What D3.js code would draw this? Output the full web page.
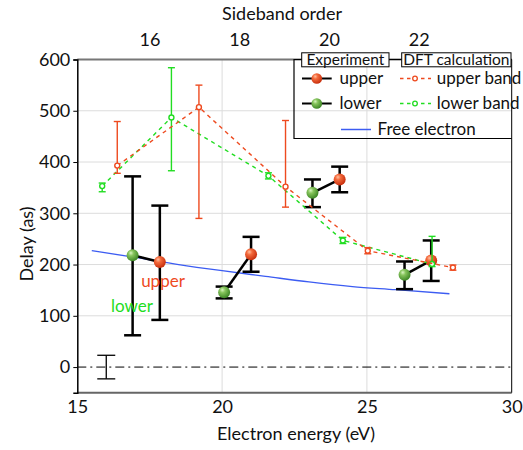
<!DOCTYPE html>
<html>
<head>
<meta charset="utf-8">
<script src="https://cdn.jsdelivr.net/npm/d3@7"></script>
<style>
  body { margin: 0; background: #fff; }
  svg { display: block; font-family: Lato, 'Open Sans', sans-serif; }
</style>
</head>
<body>
<svg id="chart" width="523" height="450"></svg>
<script>
// experiment: lower / upper band pairs
const expLowerEnergy = [16.91, 20.07, 23.12, 26.30];
const expLowerDelay = [218, 146, 340, 180];
const expLowerHigh = [372, 157, 366, 206];
const expLowerLow = [62, 134, 312, 152];
const expUpperEnergy = [17.85, 21.00, 24.06, 27.22];
const expUpperDelay = [205, 220, 366, 208];
const expUpperHigh = [315, 254, 391, 247];
const expUpperLow = [92, 186, 341, 168];

// DFT calculation
const dftUpperEnergy = [16.38, 19.20, 22.19, 25.03, 27.97];
const dftUpperDelay = [393, 507, 352, 227, 194];
const dftUpperHigh = [479, 550, 481, 233, 199];
const dftUpperLow = [378, 290, 312, 221, 189];
const dftLowerEnergy = [15.86, 18.25, 21.60, 24.17, 27.25];
const dftLowerDelay = [353, 487, 373, 247, 201];
const dftLowerHigh = [359, 584, 379, 253, 255];
const dftLowerLow = [342, 383, 367, 241, 196];

// free electron delay
const freeEnergy = [15.5, 17, 18.5, 20, 21.5, 23, 24.5, 26, 27.85];
const freeDelay = [227, 214, 200, 188, 177, 166, 157, 151, 143];

// reference error bar at zero
const refEnergy = [16.0];
const refDelay = [0];
const refErr = [23];

const xTicks = [15, 20, 25, 30];
const yTicks = [0, 100, 200, 300, 400, 500, 600];
const sidebandTicks = [16, 18, 20, 22];

const red = '#ee4a1f';
const green = '#22dd22';
const blue = '#3c5cf2';

const margin = { left: 77.3, right: 511.7, top: 59.5, bottom: 392.7 };
const svg = d3.select('#chart');

const x = d3.scaleLinear().domain([15, 30]).range([margin.left, margin.right]);
const y = d3.scaleLinear().domain([-50, 600]).range([margin.bottom, margin.top]);
// sideband order -> electron energy
const sbEnergy = (q) => 17.51 + 1.55 * (q - 16);

const defs = svg.append('defs');
const addSphere = (id, c0, c1, c2) => {
  let g = defs.append('radialGradient').attr('id', id)
    .attr('cx', '38%').attr('cy', '35%').attr('r', '65%').attr('fx', '35%').attr('fy', '30%');
  g.append('stop').attr('offset', '0%').attr('stop-color', c0);
  g.append('stop').attr('offset', '35%').attr('stop-color', c1);
  g.append('stop').attr('offset', '100%').attr('stop-color', c2);
};
addSphere('sphRed', '#ffc0a0', '#f46a3c', '#c8300e');
addSphere('sphGreen', '#d8f4c0', '#86c45c', '#3e8726');

// grid
const grid = svg.append('g');
grid.selectAll('.gy').data(yTicks.filter(d => d > 0 && d < 600)).enter().append('line')
  .attr('x1', margin.left).attr('x2', margin.right)
  .attr('y1', d => y(d)).attr('y2', d => y(d))
  .attr('stroke', '#dcdcdc').attr('stroke-width', 1);
grid.selectAll('.gx').data([20, 25]).enter().append('line')
  .attr('x1', d => x(d)).attr('x2', d => x(d))
  .attr('y1', margin.top).attr('y2', margin.bottom)
  .attr('stroke', '#dcdcdc').attr('stroke-width', 1);

// zero line
svg.append('line')
  .attr('x1', margin.left).attr('x2', margin.right)
  .attr('y1', y(0)).attr('y2', y(0))
  .attr('stroke', '#000').attr('stroke-width', 1)
  .attr('stroke-dasharray', '9,4,2,4');

// free electron
const freeLine = d3.line().curve(d3.curveMonotoneX)
  .x((d, i) => x(freeEnergy[i])).y(d => y(d));
svg.append('path')
  .attr('d', freeLine(freeDelay))
  .attr('fill', 'none').attr('stroke', blue).attr('stroke-width', 1.3);

const drawErrorBar = (g, ex, hi, lo, cap, color, width) => {
  g.append('line').attr('x1', x(ex)).attr('x2', x(ex)).attr('y1', y(hi)).attr('y2', y(lo))
    .attr('stroke', color).attr('stroke-width', width);
  [hi, lo].forEach(v => {
    g.append('line').attr('x1', x(ex) - cap).attr('x2', x(ex) + cap).attr('y1', y(v)).attr('y2', y(v))
      .attr('stroke', color).attr('stroke-width', width);
  });
};

// reference bar
refEnergy.forEach((e, i) => {
  drawErrorBar(svg, e, refDelay[i] + refErr[i], refDelay[i] - refErr[i], 9, '#000', 1.3);
});

// experiment
const expG = svg.append('g');
expLowerEnergy.forEach((e, i) => {
  drawErrorBar(expG, e, expLowerHigh[i], expLowerLow[i], 8.5, '#000', 2.5);
  drawErrorBar(expG, expUpperEnergy[i], expUpperHigh[i], expUpperLow[i], 8.5, '#000', 2.5);
  expG.append('line')
    .attr('x1', x(e)).attr('y1', y(expLowerDelay[i]))
    .attr('x2', x(expUpperEnergy[i])).attr('y2', y(expUpperDelay[i]))
    .attr('stroke', '#000').attr('stroke-width', 2.5);
});
expG.selectAll('.sph-l').data(expLowerDelay).enter().append('circle')
  .attr('cx', (d, i) => x(expLowerEnergy[i])).attr('cy', d => y(d)).attr('r', 6)
  .attr('fill', 'url(#sphGreen)');
expG.selectAll('.sph-u').data(expUpperDelay).enter().append('circle')
  .attr('cx', (d, i) => x(expUpperEnergy[i])).attr('cy', d => y(d)).attr('r', 6)
  .attr('fill', 'url(#sphRed)');

// DFT
const drawDft = (energy, delay, high, low, color) => {
  let g = svg.append('g');
  let line = d3.line().x((d, i) => x(energy[i])).y(d => y(d));
  g.append('path').attr('d', line(delay))
    .attr('fill', 'none').attr('stroke', color).attr('stroke-width', 1.4)
    .attr('stroke-dasharray', '4,4');
  energy.forEach((e, i) => drawErrorBar(g, e, high[i], low[i], 3.5, color, 1.4));
  g.selectAll('circle').data(delay).enter().append('circle')
    .attr('cx', (d, i) => x(energy[i])).attr('cy', d => y(d)).attr('r', 2.5)
    .attr('fill', '#fff').attr('stroke', color).attr('stroke-width', 1.4);
};
drawDft(dftLowerEnergy, dftLowerDelay, dftLowerHigh, dftLowerLow, green);
drawDft(dftUpperEnergy, dftUpperDelay, dftUpperHigh, dftUpperLow, red);

// annotations
svg.append('text').attr('x', 163).attr('y', 287).attr('text-anchor', 'middle')
  .attr('font-size', 17).attr('fill', red).text('upper');
svg.append('text').attr('x', 132).attr('y', 312).attr('text-anchor', 'middle')
  .attr('font-size', 17).attr('fill', green).text('lower');

// axes
const axisG = svg.append('g');
axisG.append('line').attr('x1', margin.left).attr('x2', margin.right)
  .attr('y1', margin.bottom).attr('y2', margin.bottom).attr('stroke', '#666').attr('stroke-width', 2);
axisG.append('line').attr('x1', margin.left).attr('x2', margin.right)
  .attr('y1', margin.top).attr('y2', margin.top).attr('stroke', '#777').attr('stroke-width', 2);
axisG.append('line').attr('x1', margin.right).attr('x2', margin.right)
  .attr('y1', margin.top).attr('y2', margin.bottom).attr('stroke', '#000').attr('stroke-width', 1);

const yAxis = svg.append('g').attr('transform', `translate(${margin.left},0)`)
  .call(d3.axisLeft(y).tickValues(yTicks).tickSize(4).tickPadding(3));
yAxis.select('.domain').attr('stroke', '#000').attr('stroke-width', 1.5);
yAxis.selectAll('text').attr('font-size', 18).attr('fill', '#111').attr('font-family', 'Lato, sans-serif');

const xAxis = svg.append('g').attr('transform', `translate(0,${margin.bottom})`)
  .call(d3.axisBottom(x).tickValues(xTicks).tickSize(0).tickPadding(8));
xAxis.select('.domain').remove();
xAxis.selectAll('text').attr('font-size', 18).attr('fill', '#111').attr('font-family', 'Lato, sans-serif');

svg.selectAll('.sb').data(sidebandTicks).enter().append('text')
  .attr('x', d => x(sbEnergy(d))).attr('y', 46).attr('text-anchor', 'middle')
  .attr('font-size', 18).attr('fill', '#111').text(d => d);

svg.append('text').attr('x', 282).attr('y', 20).attr('text-anchor', 'middle')
  .attr('font-size', 18).attr('fill', '#111').text('Sideband order');
svg.append('text').attr('x', 296).attr('y', 440).attr('text-anchor', 'middle')
  .attr('font-size', 18).attr('fill', '#111').text('Electron energy (eV)');
svg.append('text').attr('transform', 'translate(33,244) rotate(-90)').attr('text-anchor', 'middle')
  .attr('font-size', 18).attr('fill', '#111').text('Delay (as)');

// legend
const lg = svg.append('g');
lg.append('path')
  .attr('d', `M${margin.right},${margin.top} H294 V138.5 H${margin.right}`)
  .attr('fill', 'none').attr('stroke', '#000').attr('stroke-width', 1.2);
const titleBox = (x0, x1, label) => {
  lg.append('rect').attr('x', x0).attr('y', 52.8).attr('width', x1 - x0).attr('height', 14)
    .attr('fill', '#fff').attr('stroke', '#000').attr('stroke-width', 1);
  lg.append('text').attr('x', (x0 + x1) / 2).attr('y', 65).attr('text-anchor', 'middle')
    .attr('font-size', 15.5).attr('fill', '#111').text(label);
};
titleBox(301.7, 389, 'Experiment');
titleBox(401.7, 511, 'DFT calculation');

const legendExp = [
  { label: 'upper', fill: 'url(#sphRed)', y: 78.5 },
  { label: 'lower', fill: 'url(#sphGreen)', y: 103.5 }
];
legendExp.forEach(d => {
  lg.append('line').attr('x1', 302).attr('x2', 331.7).attr('y1', d.y).attr('y2', d.y)
    .attr('stroke', '#000').attr('stroke-width', 2);
  lg.append('circle').attr('cx', 316.8).attr('cy', d.y).attr('r', 5.3).attr('fill', d.fill);
  lg.append('text').attr('x', 339.5).attr('y', d.y + 5.5).attr('font-size', 17).attr('fill', '#111').text(d.label);
});
const legendDft = [
  { label: 'upper band', color: red, y: 78.5 },
  { label: 'lower band', color: green, y: 103.5 }
];
legendDft.forEach(d => {
  lg.append('line').attr('x1', 400).attr('x2', 431).attr('y1', d.y).attr('y2', d.y)
    .attr('stroke', d.color).attr('stroke-width', 1.3).attr('stroke-dasharray', '3.5,3.5');
  lg.append('circle').attr('cx', 415).attr('cy', d.y).attr('r', 2.3)
    .attr('fill', '#fff').attr('stroke', d.color).attr('stroke-width', 1.3);
  lg.append('text').attr('x', 436.7).attr('y', d.y + 5.5).attr('font-size', 17).attr('fill', '#111').text(d.label);
});
lg.append('line').attr('x1', 341).attr('x2', 371).attr('y1', 129.5).attr('y2', 129.5)
  .attr('stroke', blue).attr('stroke-width', 1.5);
lg.append('text').attr('x', 377.5).attr('y', 135).attr('font-size', 17).attr('fill', '#111').text('Free electron');
</script>
</body>
</html>
